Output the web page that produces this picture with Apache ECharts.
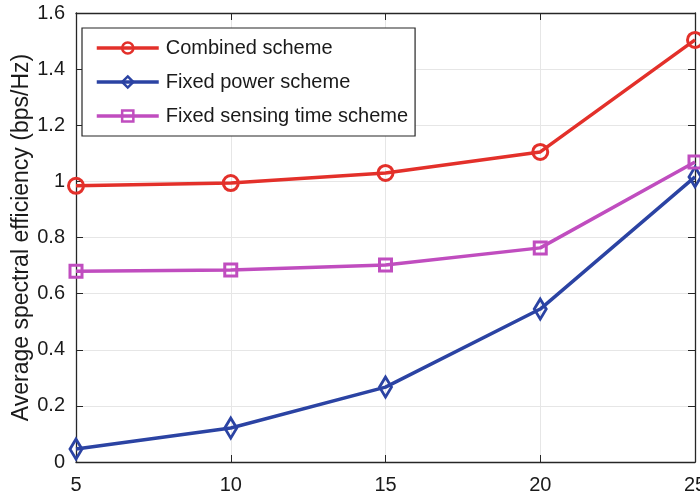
<!DOCTYPE html>
<html><head><meta charset="utf-8">
<script src="https://cdn.jsdelivr.net/npm/echarts@6/dist/echarts.min.js"></script>
<style>html,body{margin:0;padding:0;background:#fff}#c{width:700px;height:497px}</style>
</head><body><div id="c"></div>
<script>
const categories = [5, 10, 15, 20, 25];
const combined = [0.984, 0.994, 1.03, 1.105, 1.504];
const fixedPower = [0.046, 0.121, 0.267, 0.545, 1.016];
const fixedSensing = [0.68, 0.684, 0.702, 0.763, 1.069];
const yTicks = [0, 0.2, 0.4, 0.6, 0.8, 1, 1.2, 1.4, 1.6];
const names = ['Combined scheme', 'Fixed power scheme', 'Fixed sensing time scheme'];

const FONT = "'Liberation Sans', Arial, Helvetica, sans-serif";
const axisCol = '#262626';
const red = '#e3302a', blue = '#2b43a3', mag = '#c04dbf';
function pairs(v){ return categories.map((x,i)=>[x, v[i]]); }
const chart = echarts.init(document.getElementById('c'), null, {renderer:'canvas'});
const baseX = {type:'value', min:5, max:25, interval:5};
const baseY = {type:'value', min:0, max:1.6, interval:0.2};
function mkSeries(name, data, color, symbol, size){
  return {name, type:'line', data:pairs(data), symbol, symbolSize:size,
    lineStyle:{color, width:3.5}, itemStyle:{color:'rgba(255,255,255,0)', borderColor:color, borderWidth:3},
    emphasis:{disabled:true}, z:3};
}
chart.setOption({
  animation:false,
  grid:{left:76, right:5, top:13, bottom:35, containLabel:false, outerBoundsMode:'none', show:false},
  legend:{show:true, orient:'vertical', left:82, top:28, itemWidth:62, itemHeight:14, itemGap:14,
    padding:[10,7,10,13], borderColor:axisCol, borderWidth:1.2, backgroundColor:'#fff',
    lineStyle:{width:3.5}, itemStyle:{borderWidth:2.5},
    textStyle:{fontFamily:FONT, fontSize:20, color:'#1a1a1a', padding:[0,0,0,2]}, data:names},
  xAxis:[
    Object.assign({}, baseX, {position:'bottom',
      axisLine:{show:true, lineStyle:{color:axisCol, width:1.3}},
      axisTick:{show:true, inside:true, length:7, lineStyle:{color:axisCol}},
      axisLabel:{fontFamily:FONT, fontSize:20, color:'#1a1a1a', margin:13},
      splitLine:{show:true, lineStyle:{color:'#e6e6e6', width:1}}}),
    Object.assign({}, baseX, {position:'top',
      axisLine:{show:true, onZero:false, lineStyle:{color:axisCol, width:1.3}},
      axisTick:{show:true, inside:true, length:7, lineStyle:{color:axisCol}},
      axisLabel:{show:false}, splitLine:{show:false}})
  ],
  yAxis:[
    Object.assign({}, baseY, {position:'left',
      name:'Average spectral efficiency (bps/Hz)', nameLocation:'middle', nameGap:43,
      nameMoveOverlap:false,
      nameTextStyle:{fontFamily:FONT, fontSize:23, color:'#1a1a1a'},
      axisLine:{show:true, lineStyle:{color:axisCol, width:1.3}},
      axisTick:{show:true, inside:true, length:7, lineStyle:{color:axisCol}},
      axisLabel:{fontFamily:FONT, fontSize:20, color:'#1a1a1a', margin:11,
        formatter:v=>String(+v.toFixed(1))},
      splitLine:{show:true, lineStyle:{color:'#e6e6e6', width:1}}}),
    Object.assign({}, baseY, {position:'right',
      axisLine:{show:true, onZero:false, lineStyle:{color:axisCol, width:1.3}},
      axisTick:{show:true, inside:true, length:7, lineStyle:{color:axisCol}},
      axisLabel:{show:false}, splitLine:{show:false}})
  ],
  series:[
    mkSeries(names[0], combined, red, 'circle', 15),
    mkSeries(names[1], fixedPower, blue, 'diamond', [12,20]),
    mkSeries(names[2], fixedSensing, mag, 'rect', 12)
  ]
});
</script></body></html>
